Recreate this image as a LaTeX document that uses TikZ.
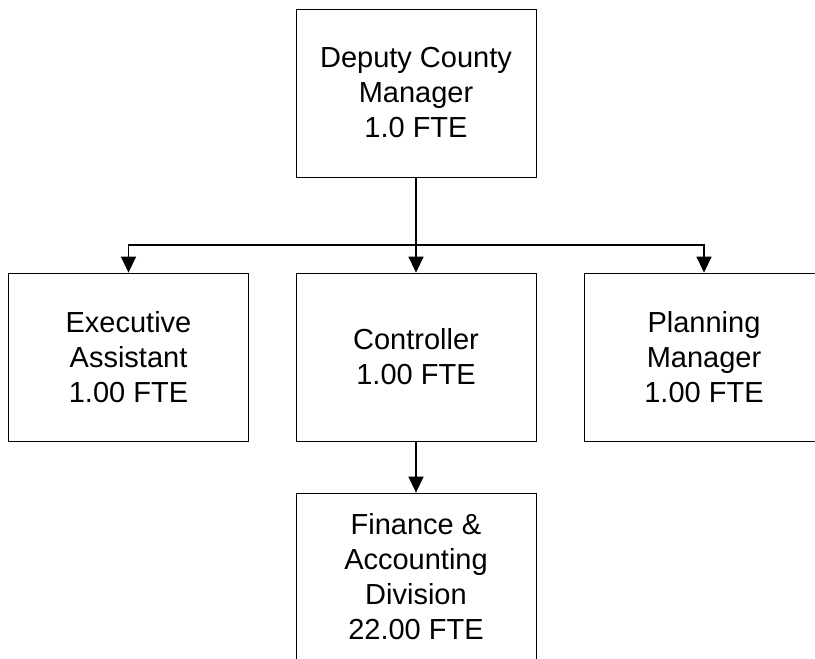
\documentclass[tikz,border=0pt]{standalone}
\usepackage{fontspec}
\setmainfont{Liberation Sans}
\usetikzlibrary{arrows.meta}
\begin{document}
\begin{tikzpicture}[x=1pt,y=-1pt,
  orgbox/.style={draw=black, line width=0.8pt, fill=white, minimum width=240pt, minimum height=168pt, inner sep=0pt, align=center, font=\fontsize{29}{35}\selectfont},
  conn/.style={line width=1.5pt, -{Triangle[length=16pt,width=15pt]}}]
\useasboundingbox (0,0) rectangle (815,659);
\node[orgbox] (dcm) at (416,93) {Deputy County\\Manager\\1.0 FTE};
\node[orgbox] (ea) at (128.5,357) {Executive\\Assistant\\1.00 FTE};
\node[orgbox] (ctrl) at (416,357) {Controller\\1.00 FTE};
\node[orgbox] (pm) at (704,357) {Planning\\Manager\\1.00 FTE};
\node[orgbox] (fin) at (416,577) {Finance \&\\Accounting\\Division\\22.00 FTE};
\coordinate (j) at (416,245);
\draw[conn] (dcm.south) -- (ctrl.north);
\draw[conn] (j) -| (ea.north);
\draw[conn] (j) -| (pm.north);
\draw[conn] (ctrl.south) -- (fin.north);
\end{tikzpicture}
\end{document}
